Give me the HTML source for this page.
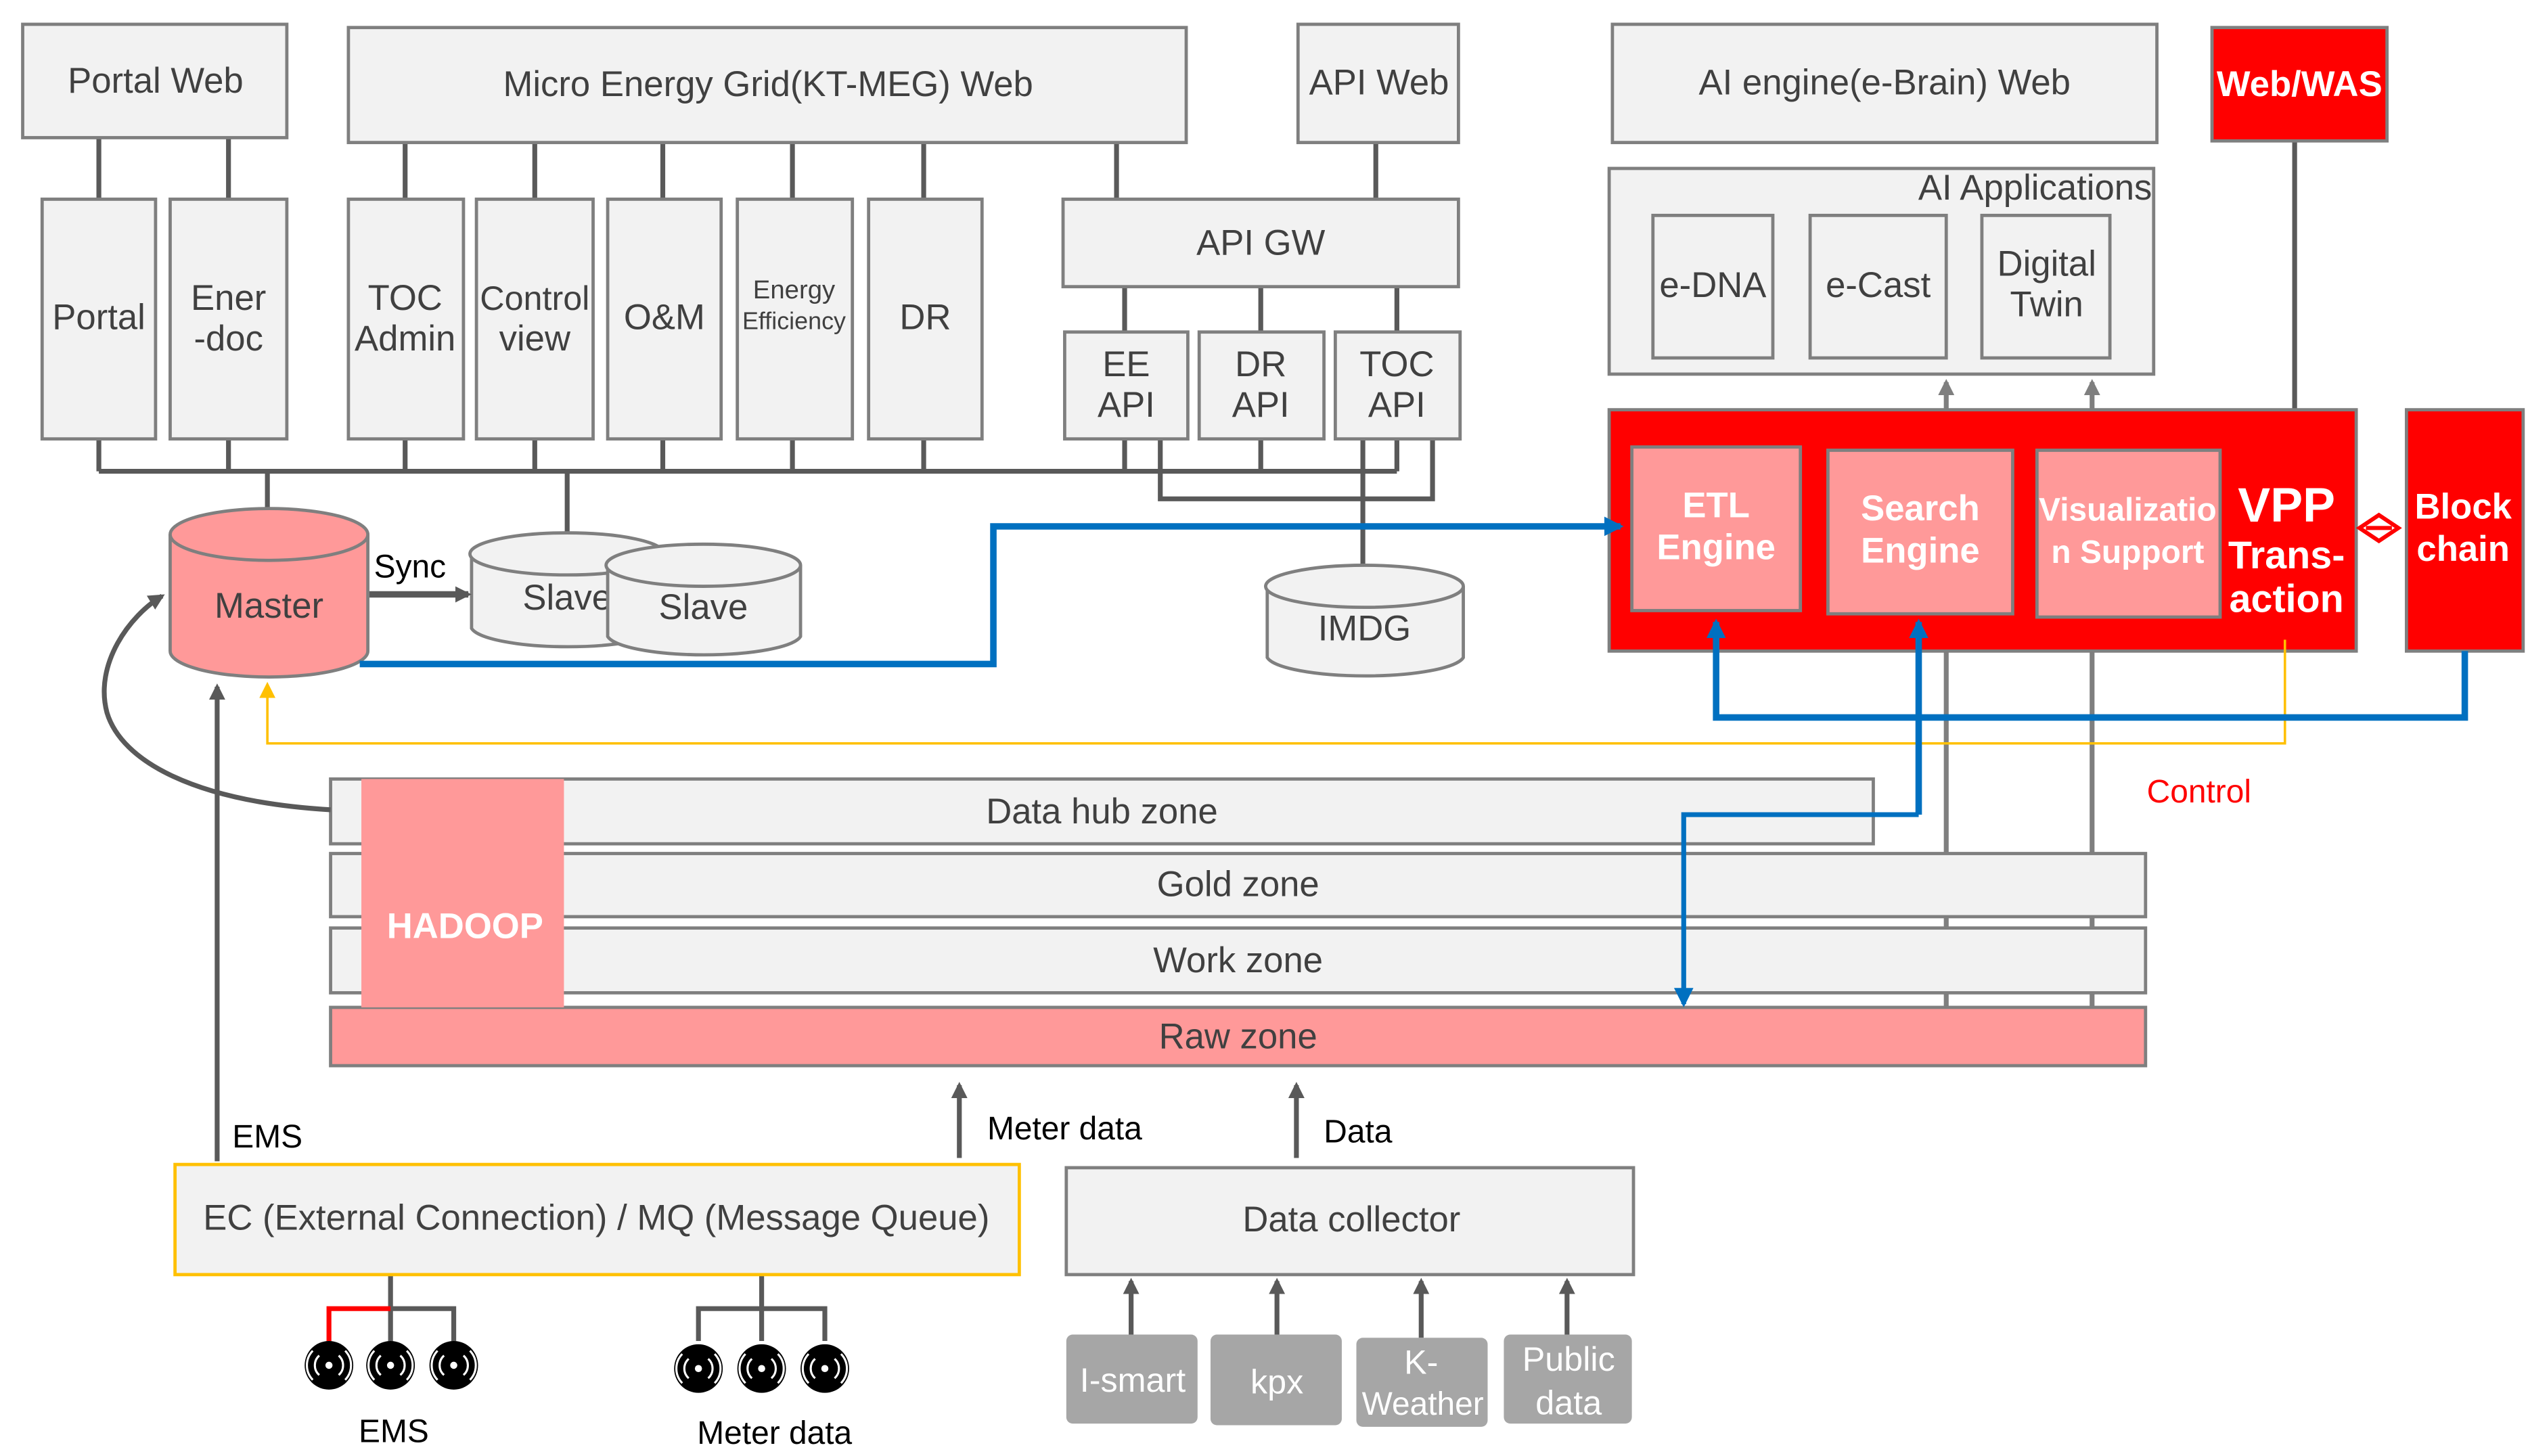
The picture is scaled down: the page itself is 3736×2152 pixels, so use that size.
<!DOCTYPE html>
<html><head><meta charset="utf-8"><style>
html,body{margin:0;padding:0;background:#fff}
svg{display:block}
text{font-family:"Liberation Sans Narrow","Liberation Sans",sans-serif;fill:#404040;text-anchor:middle;dominant-baseline:central}
.b{fill:#f2f2f2;stroke:#7f7f7f;stroke-width:2}
.w{fill:#fff;font-weight:bold}
</style></head><body>
<svg width="3736" height="2152" viewBox="0 0 1560 899" preserveAspectRatio="none" xmlns="http://www.w3.org/2000/svg">
<defs>
<marker id="ag2" markerWidth="10" markerHeight="10" refX="8" refY="5" orient="auto" markerUnits="userSpaceOnUse"><path d="M0,0 L10,5 L0,10z" fill="#595959"/></marker>
<marker id="agl" markerWidth="10" markerHeight="10" refX="8" refY="5" orient="auto" markerUnits="userSpaceOnUse"><path d="M0,0 L10,5 L0,10z" fill="#7f7f7f"/></marker>
<marker id="ab" markerWidth="12" markerHeight="12" refX="10" refY="6" orient="auto" markerUnits="userSpaceOnUse"><path d="M0,0 L12,6 L0,12z" fill="#0070c0"/></marker>
<marker id="ay" markerWidth="10" markerHeight="10" refX="8" refY="5" orient="auto" markerUnits="userSpaceOnUse"><path d="M0,0 L10,5 L0,10z" fill="#ffc000"/></marker>
</defs>
<g stroke="#595959" stroke-width="3" fill="none">
<path d="M61,85V123M141,85V123M250,88V123M330,88V123M409,88V123M489,88V123M570,88V123M689,88V123M849,88V123M694,177V205M778,177V205M862,177V205"/>
<path d="M61,271V291M141,271V291M250,271V291M330,271V291M409,271V291M489,271V291M570,271V291M694,271V291M778,271V291M862,271V291M61,291H862"/>
<path d="M716,271V308H884V271M165,291V314M350,291V330M841,271V350M1416,87V253"/>
<path d="M241,787V808M470,787V808M241,808H280V828M241,808V828M431,828V808H509V828M470,808V828"/>
</g>
<path d="M203,828V808H241" stroke="#ff0000" stroke-width="3" fill="none"/>
<rect class="b" x="14" y="15" width="163" height="70"/><text x="96" y="50" font-size="22">Portal Web</text>
<rect class="b" x="215" y="17" width="517" height="71"/><text x="474" y="52" font-size="22">Micro Energy Grid(KT-MEG) Web</text>
<rect class="b" x="801" y="15" width="99" height="73"/><text x="851" y="51" font-size="22">API Web</text>
<rect class="b" x="995" y="15" width="336" height="73"/><text x="1163" y="51" font-size="22">AI engine(e-Brain) Web</text>
<rect x="1365" y="17" width="108" height="70" fill="#ff0000" stroke="#7f7f7f" stroke-width="2"/><text class="w" x="1419" y="52" font-size="22">Web/WAS</text>
<rect class="b" x="26" y="123" width="70" height="148"/><text x="61" y="196" font-size="22">Portal</text>
<rect class="b" x="105" y="123" width="72" height="148"/><text x="141" y="184" font-size="22">Ener</text><text x="141" y="209" font-size="22">-doc</text>
<rect class="b" x="215" y="123" width="71" height="148"/><text x="250" y="184" font-size="22">TOC</text><text x="250" y="209" font-size="22">Admin</text>
<rect class="b" x="294" y="123" width="72" height="148"/><text x="330" y="184" font-size="21">Control</text><text x="330" y="209" font-size="22">view</text>
<rect class="b" x="375" y="123" width="70" height="148"/><text x="410" y="196" font-size="22">O&amp;M</text>
<rect class="b" x="455" y="123" width="71" height="148"/><text x="490" y="179" font-size="16">Energy</text><text x="490" y="198" font-size="15">Efficiency</text>
<rect class="b" x="536" y="123" width="70" height="148"/><text x="571" y="196" font-size="22">DR</text>
<rect class="b" x="656" y="123" width="244" height="54"/><text x="778" y="150" font-size="22">API GW</text>
<rect class="b" x="657" y="205" width="76" height="66"/><text x="695" y="225" font-size="22">EE</text><text x="695" y="250" font-size="22">API</text>
<rect class="b" x="740" y="205" width="77" height="66"/><text x="778" y="225" font-size="22">DR</text><text x="778" y="250" font-size="22">API</text>
<rect class="b" x="824" y="205" width="77" height="66"/><text x="862" y="225" font-size="22">TOC</text><text x="862" y="250" font-size="22">API</text>
<path d="M105,330 V402 A61,16 0 0 0 227,402 V330" fill="#ff9999" stroke="#7f7f7f" stroke-width="2"/>
<ellipse cx="166" cy="330" rx="61" ry="16" fill="#ff9999" stroke="#7f7f7f" stroke-width="2"/>
<text x="166" y="374" font-size="22">Master</text>
<path d="M291,342 V388 A60,13 0 0 0 410,388 V342" class="b"/><ellipse cx="350" cy="342" rx="60" ry="13" class="b"/><text x="350" y="369" font-size="22">Slave</text>
<path d="M375,349 V393 A60,13 0 0 0 494,393 V349" class="b"/><ellipse cx="434" cy="349" rx="60" ry="13" class="b"/><text x="434" y="375" font-size="22">Slave</text>
<path d="M782,362 V406 A61,13 0 0 0 903,406 V362" class="b"/><ellipse cx="842" cy="362" rx="61" ry="13" class="b"/><text x="842" y="388" font-size="22">IMDG</text>
<line x1="228" y1="367" x2="289" y2="367" stroke="#595959" stroke-width="4" marker-end="url(#ag2)"/>
<text x="253" y="350" font-size="20" style="fill:#000">Sync</text>
<rect class="b" x="993" y="104" width="336" height="127"/><text x="1328" y="116" font-size="22" style="text-anchor:end">AI Applications</text>
<rect class="b" x="1020" y="133" width="74" height="88"/><text x="1057" y="176" font-size="22">e-DNA</text>
<rect class="b" x="1117" y="133" width="84" height="88"/><text x="1159" y="176" font-size="22">e-Cast</text>
<rect class="b" x="1223" y="133" width="79" height="88"/><text x="1263" y="163" font-size="22">Digital</text><text x="1263" y="188" font-size="22">Twin</text>
<g stroke="#7f7f7f" stroke-width="3"><line x1="1201" y1="253" x2="1201" y2="236" marker-end="url(#agl)"/><line x1="1291" y1="253" x2="1291" y2="236" marker-end="url(#agl)"/>
<line x1="1201" y1="402" x2="1201" y2="622"/><line x1="1291" y1="402" x2="1291" y2="622"/></g>
<rect x="993" y="253" width="461" height="149" fill="#ff0000" stroke="#7f7f7f" stroke-width="2"/>
<rect x="1007" y="276" width="104" height="101" fill="#ff9999" stroke="#7f7f7f" stroke-width="2"/>
<text class="w" x="1059" y="312" font-size="22">ETL</text><text class="w" x="1059" y="338" font-size="22">Engine</text>
<rect x="1128" y="278" width="114" height="101" fill="#ff9999" stroke="#7f7f7f" stroke-width="2"/>
<text class="w" x="1185" y="314" font-size="22">Search</text><text class="w" x="1185" y="340" font-size="22">Engine</text>
<rect x="1257" y="278" width="113" height="103" fill="#ff9999" stroke="#7f7f7f" stroke-width="2"/>
<text class="w" x="1313" y="315" font-size="20">Visualizatio</text><text class="w" x="1313" y="341" font-size="20">n Support</text>
<text class="w" x="1411" y="312" font-size="30">VPP</text><text class="w" x="1411" y="343" font-size="24">Trans-</text><text class="w" x="1411" y="370" font-size="24">action</text>
<rect x="1485" y="253" width="72" height="149" fill="#ff0000" stroke="#7f7f7f" stroke-width="2"/>
<text class="w" x="1520" y="313" font-size="22">Block</text><text class="w" x="1520" y="339" font-size="22">chain</text>
<path d="M1456,326 L1468,318 L1480,326 L1468,334z M1460,326H1476" fill="none" stroke="#ff0000" stroke-width="2.5"/>
<rect class="b" x="204" y="481" width="952" height="40"/><text x="680" y="501" font-size="22">Data hub zone</text>
<rect class="b" x="204" y="527" width="1120" height="39"/><text x="764" y="546" font-size="22">Gold zone</text>
<rect class="b" x="204" y="573" width="1120" height="40"/><text x="764" y="593" font-size="22">Work zone</text>
<rect x="204" y="622" width="1120" height="36" fill="#ff9999" stroke="#7f7f7f" stroke-width="2"/><text x="764" y="640" font-size="22">Raw zone</text>
<rect x="223" y="481" width="125" height="141" fill="#ff9999"/>
<text class="w" x="287" y="572" font-size="22">HADOOP</text>
<path d="M1410,395 V459 H165 V423" fill="none" stroke="#ffc000" stroke-width="1.5" marker-end="url(#ay)"/>
<g fill="none" stroke="#0070c0" stroke-width="4">
<path d="M222,410 H613 V325 H1000" marker-end="url(#ab)"/>
<path d="M1521,402 V443 H1059 V384" marker-end="url(#ab)"/>
<path d="M1184,503 V384" marker-end="url(#ab)"/>
<path d="M1184,503 H1039 V620" stroke-width="3" marker-end="url(#ab)"/>
</g>
<text x="1357" y="489" font-size="20" style="fill:#ff0000">Control</text>
<path d="M204,500 C120,495 75,470 66,440 C58,410 80,380 100,368" fill="none" stroke="#595959" stroke-width="3" marker-end="url(#ag2)"/>
<line x1="134" y1="717" x2="134" y2="424" stroke="#595959" stroke-width="3" marker-end="url(#ag2)"/>
<text x="165" y="702" font-size="20" style="fill:#000">EMS</text>
<rect x="108" y="719" width="521" height="68" fill="#f2f2f2" stroke="#ffc000" stroke-width="2"/><text x="368" y="752" font-size="22">EC (External Connection) / MQ (Message Queue)</text>
<rect class="b" x="658" y="721" width="350" height="66"/><text x="834" y="753" font-size="22">Data collector</text>
<line x1="592" y1="715" x2="592" y2="670" stroke="#595959" stroke-width="3" marker-end="url(#ag2)"/>
<text x="657" y="697" font-size="20" style="fill:#000">Meter data</text>
<line x1="800" y1="715" x2="800" y2="670" stroke="#595959" stroke-width="3" marker-end="url(#ag2)"/>
<text x="838" y="699" font-size="20" style="fill:#000">Data</text>
<g stroke="#595959" stroke-width="3"><line x1="698" y1="824" x2="698" y2="791" marker-end="url(#ag2)"/><line x1="788" y1="824" x2="788" y2="791" marker-end="url(#ag2)"/><line x1="877" y1="826" x2="877" y2="791" marker-end="url(#ag2)"/><line x1="967" y1="824" x2="967" y2="791" marker-end="url(#ag2)"/></g>
<g fill="#a6a6a6"><rect x="658" y="824" width="81" height="55" rx="4"/><rect x="747" y="824" width="81" height="56" rx="4"/><rect x="837" y="826" width="81" height="55" rx="4"/><rect x="928" y="824" width="79" height="55" rx="4"/></g>
<g font-size="21"><text x="699" y="852" style="fill:#fff">I-smart</text><text x="788" y="853" style="fill:#fff">kpx</text>
<text x="877" y="841" style="fill:#fff">K-</text><text x="878" y="867" font-size="20" style="fill:#fff">Weather</text>
<text x="968" y="839" style="fill:#fff">Public</text><text x="968" y="866" style="fill:#fff">data</text></g>
<circle cx="203" cy="843" r="15" fill="#000"/><g fill="none" stroke="#fff" stroke-width="1.3"><path d="M197,837 A8,8 0 0 0 197,849 M209,837 A8,8 0 0 1 209,849 M193,834 A13,13 0 0 0 193,852 M213,834 A13,13 0 0 1 213,852"/></g><circle cx="203" cy="843" r="2.2" fill="#fff"/>
<circle cx="241" cy="843" r="15" fill="#000"/><g fill="none" stroke="#fff" stroke-width="1.3"><path d="M235,837 A8,8 0 0 0 235,849 M247,837 A8,8 0 0 1 247,849 M231,834 A13,13 0 0 0 231,852 M251,834 A13,13 0 0 1 251,852"/></g><circle cx="241" cy="843" r="2.2" fill="#fff"/>
<circle cx="280" cy="843" r="15" fill="#000"/><g fill="none" stroke="#fff" stroke-width="1.3"><path d="M274,837 A8,8 0 0 0 274,849 M286,837 A8,8 0 0 1 286,849 M270,834 A13,13 0 0 0 270,852 M290,834 A13,13 0 0 1 290,852"/></g><circle cx="280" cy="843" r="2.2" fill="#fff"/>
<circle cx="431" cy="845" r="15" fill="#000"/><g fill="none" stroke="#fff" stroke-width="1.3"><path d="M425,839 A8,8 0 0 0 425,851 M437,839 A8,8 0 0 1 437,851 M421,836 A13,13 0 0 0 421,854 M441,836 A13,13 0 0 1 441,854"/></g><circle cx="431" cy="845" r="2.2" fill="#fff"/>
<circle cx="470" cy="845" r="15" fill="#000"/><g fill="none" stroke="#fff" stroke-width="1.3"><path d="M464,839 A8,8 0 0 0 464,851 M476,839 A8,8 0 0 1 476,851 M460,836 A13,13 0 0 0 460,854 M480,836 A13,13 0 0 1 480,854"/></g><circle cx="470" cy="845" r="2.2" fill="#fff"/>
<circle cx="509" cy="845" r="15" fill="#000"/><g fill="none" stroke="#fff" stroke-width="1.3"><path d="M503,839 A8,8 0 0 0 503,851 M515,839 A8,8 0 0 1 515,851 M499,836 A13,13 0 0 0 499,854 M519,836 A13,13 0 0 1 519,854"/></g><circle cx="509" cy="845" r="2.2" fill="#fff"/>
<text x="243" y="884" font-size="20" style="fill:#000">EMS</text>
<text x="478" y="885" font-size="20" style="fill:#000">Meter data</text>
</svg>
</body></html>
